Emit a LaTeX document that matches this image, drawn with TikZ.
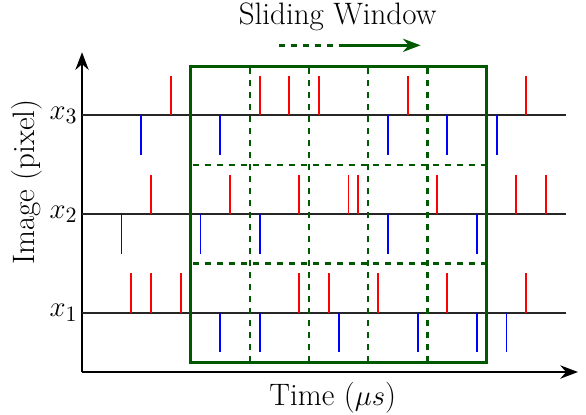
\documentclass[tikz,border=0pt]{standalone}
\usepackage{tikz}
\usetikzlibrary{arrows.meta}
\tikzset{>={Stealth[scale=1.05]}}
\definecolor{wingreen}{rgb}{0,0.35,0}
\tikzset{
  spikeup/.style={red, line width=0.95pt},
  spikedown/.style={blue, line width=0.95pt},
  rowline/.style={black!85, line width=0.9pt},
  winline/.style={wingreen, line width=1.5pt},
  winsplit/.style={wingreen, dashed, line width=1.2pt},
  every node/.style={font=\fontsize{15.5}{19}\selectfont},
}

\begin{document}
\begin{tikzpicture}[x=0.1734cm, y=0.1734cm]
        \useasboundingbox (-8.31,-4.26) rectangle (51.06,37.69);
        % axes
        \coordinate (o) at (0,0);
        \coordinate (ytop) at (0,32.4);
        \coordinate (xend) at (50.25,0);
        \draw[line width=1.2pt, ->] (o) -- (ytop);
        \draw[line width=1.2pt, ->] (o) -- (xend);
        \node[rotate=90] (ylab) at (-5.6,19.25) {Image (pixel)};
        \node (xlab) at (25.4,-2.6) {Time ($\mu s$)};
        % rows
        \foreach \r/\y in {1/6, 2/16, 3/26} {
          \coordinate (row\r a) at (0,\y);
          \coordinate (row\r b) at (49,\y);
          \draw[rowline] (row\r a) -- (row\r b);
          \node[left, inner sep=2pt] (lab\r) at (row\r a) {$x_\r$};
        }
        % events x3
        \foreach \t in {9, 18, 21, 24, 33, 45}
          \draw[spikeup] (\t,26) -- (\t,30);
        \foreach \t in {6, 14, 31, 37, 42}
          \draw[spikedown] (\t,26) -- (\t,22);
        % events x2
        \foreach \t in {7, 15, 22, 27, 28, 36, 44, 47}
          \draw[spikeup] (\t,16) -- (\t,20);
        \foreach \t in {4, 12, 18, 31, 40}
          \draw[spikedown] (\t,16) -- (\t,12);
        % events x1
        \foreach \t in {5, 7, 10, 22, 25, 30, 37, 45}
          \draw[spikeup] (\t,6) -- (\t,10);
        \foreach \t in {14, 18, 26, 34, 40, 43}
          \draw[spikedown] (\t,6) -- (\t,2);
        % window
        \foreach \t in {17, 23, 29, 35}
          \draw[winsplit] (\t,1) -- (\t,31);
        \foreach \y in {11, 21}
          \draw[winsplit] (11.2,\y) -- (40.8,\y);
        \draw[winline] (11,1) rectangle (41,31);
        % sliding
        \coordinate (sa) at (20,33.1);
        \coordinate (sb) at (25.5,33.1);
        \coordinate (sc) at (26,33.1);
        \coordinate (sd) at (34.3,33.1);
        \draw[winsplit] (sa) -- (sb);
        \draw[wingreen, line width=1.2pt, ->] (sc) -- (sd);
        \node (title) at (25.9,36.0) {Sliding Window};
      \end{tikzpicture}
\end{document}
